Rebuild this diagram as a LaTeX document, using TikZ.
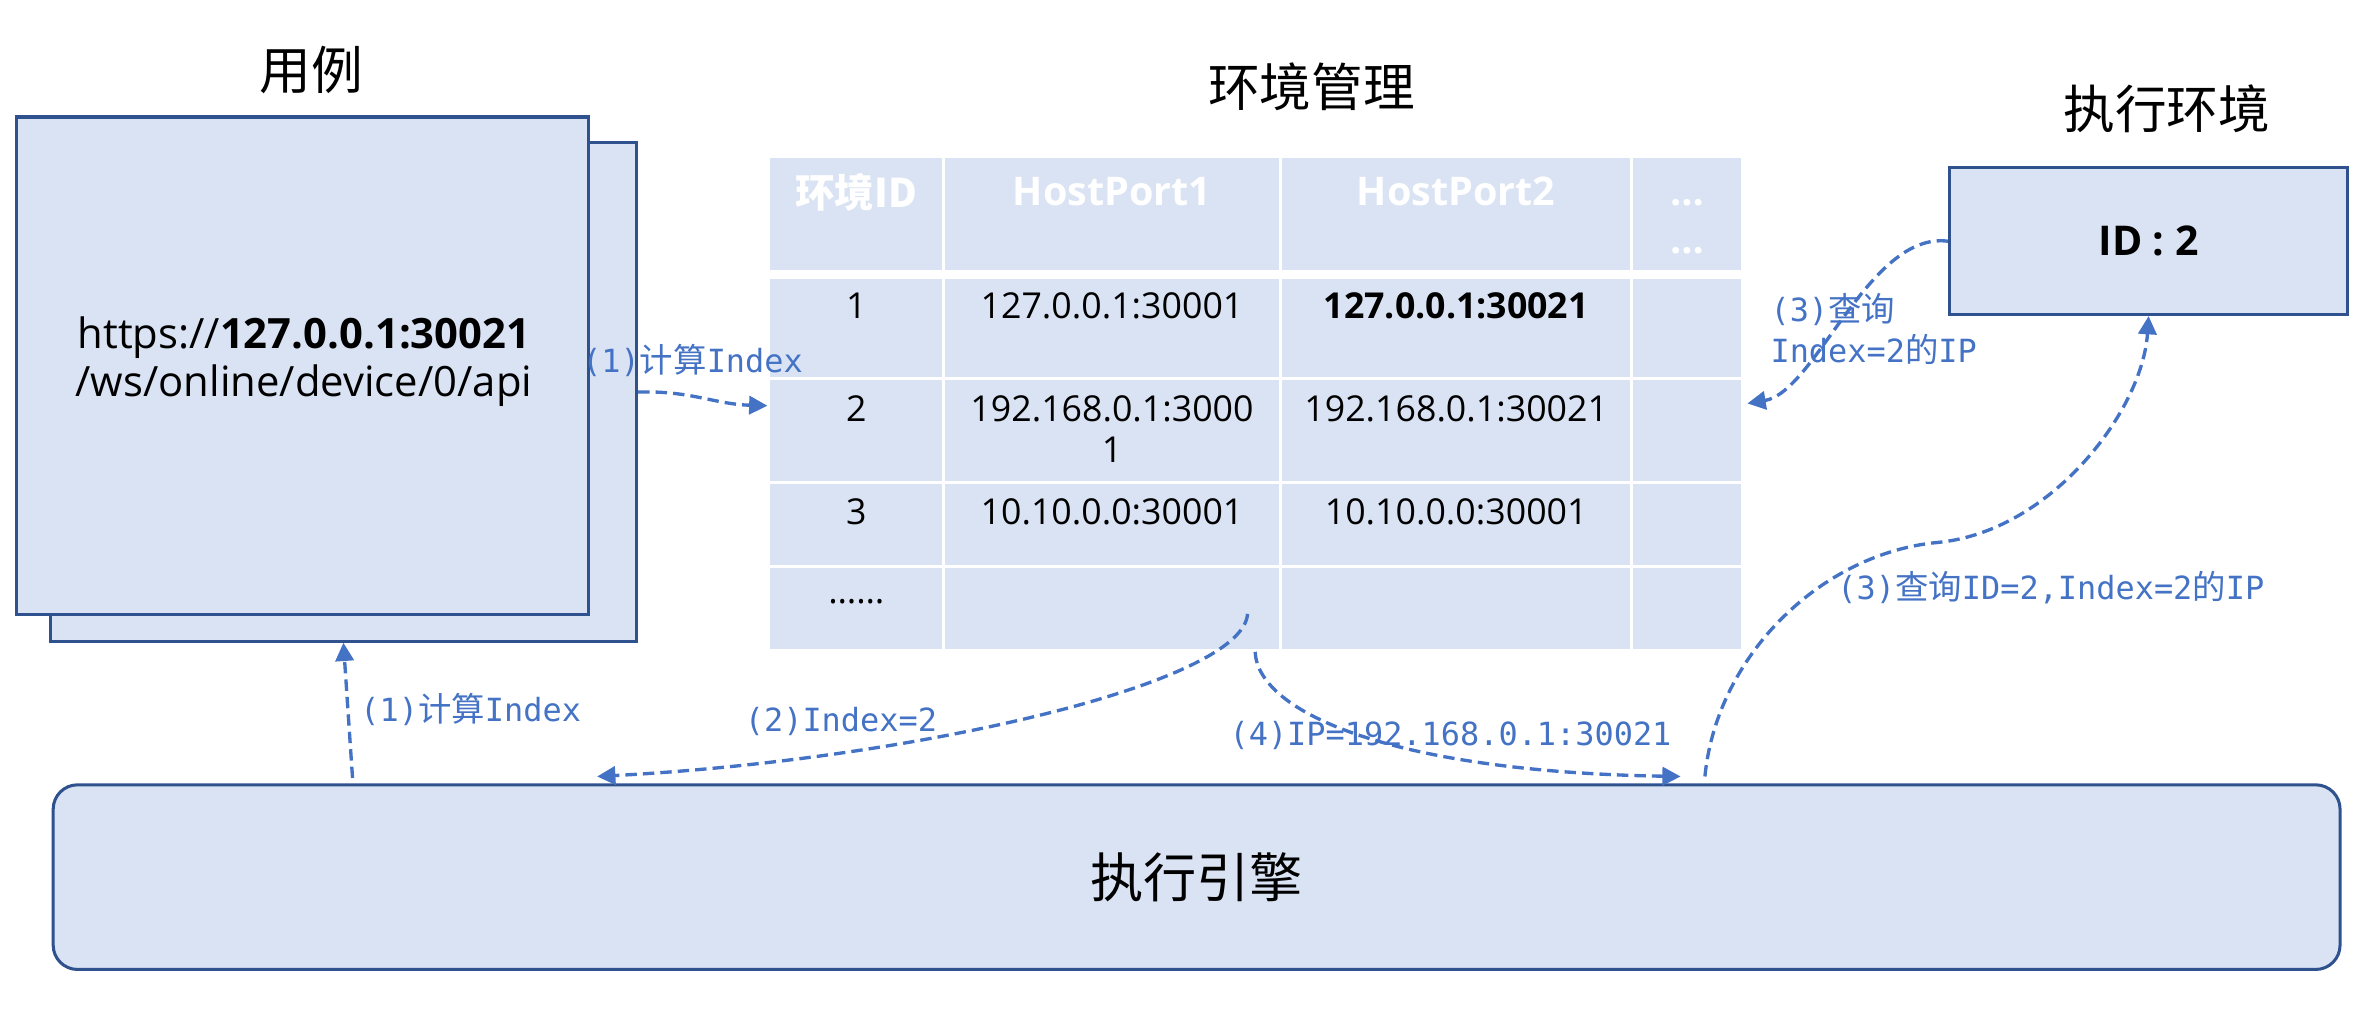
\documentclass[tikz,border=0pt]{standalone}
\usepackage{fontspec}
\setmainfont{Open Sans}
\newfontfamily\cjk{Noto Sans CJK SC}
\newfontfamily\monof{DejaVu Sans Mono}
\usetikzlibrary{arrows.meta}
\definecolor{boxfill}{HTML}{DAE3F3}
\definecolor{boxline}{HTML}{2F528F}
\definecolor{arrowc}{HTML}{4472C4}
\newcommand{\fs}[1]{\fontsize{#1}{#1}\selectfont}
\newcommand{\zh}[1]{{\cjk\fontsize{22}{22}\selectfont #1}}
\begin{document}
\begin{tikzpicture}[x=1pt,y=-1pt,
  ubox/.style={draw=boxline, fill=boxfill, line width=2pt, inner sep=0pt},
  titletext/.style={font=\cjk\fs{34}, inner sep=0pt},
  htext/.style={font=\bfseries\fs{26}, text=white, inner sep=0pt},
  hzh/.style={font=\cjk\bfseries\fs{26}, text=white, inner sep=0pt},
  dtext/.style={font=\fs{23.5}, inner sep=0pt},
  conn/.style={draw=arrowc, line width=2.2pt, dash pattern=on 7.5pt off 4pt, -{Triangle[length=12pt,width=12pt]}},
  lbl/.style={font=\monof\fs{21}, text=arrowc, inner sep=0pt, anchor=west}]
\useasboundingbox (0,0) rectangle (1563,669.3);

% titles
\node[titletext] (t1) at (205,46) {用例};
\node[titletext] (t2) at (863,57) {环境管理};
\node[titletext] (t3) at (1426,71.5) {执行环境};

% use case boxes
\node[ubox, minimum width=386pt, minimum height=328pt] (back) at (226,258) {};
\node[ubox, minimum width=376pt, minimum height=327.5pt] (front) at (199,240.75) {};
\node[font=\fontsize{27.5}{32}\selectfont, align=center, inner sep=0pt] (url) at (200,238)
  {https://\textbf{127.0.0.1:30021}\\/ws/online/device/0/api};

% table
\foreach \xa/\xb in {506.6/620, 622/841.6, 843.6/1073, 1075/1146}
  \foreach \ya/\yb in {104/177.7, 183.4/248, 250/316.5, 318.5/372, 374/427}
    \fill[boxfill] (\xa,\ya) rectangle (\xb,\yb);
\node[hzh] (h1) at (563.5,126.5) {环境ID};
\node[htext] (h2) at (731.8,126) {HostPort1};
\node[htext] (h3) at (958.3,126) {HostPort2};
\node[htext] (h4a) at (1110.5,133.5) {…};
\node[htext] (h4b) at (1110.5,165) {…};
\node[dtext] (r11) at (563.5,201) {1};
\node[dtext] (r12) at (731.8,201) {127.0.0.1:30001};
\node[dtext, font=\bfseries\fs{23.5}] (r13) at (958.3,201) {127.0.0.1:30021};
\node[dtext] (r21) at (563.5,269) {2};
\node[dtext, align=center, font=\fontsize{23.5}{27}\selectfont] (r22) at (731.8,282.5) {192.168.0.1:3000\\1};
\node[dtext] (r23) at (958.3,269) {192.168.0.1:30021};
\node[dtext] (r31) at (563.5,337) {3};
\node[dtext] (r32) at (731.8,337) {10.10.0.0:30001};
\node[dtext] (r33) at (958.3,337) {10.10.0.0:30001};
\node[dtext] (r41) at (563.5,396) {……};

% execution environment box
\node[ubox, minimum width=262pt, minimum height=96.5pt, font=\bfseries\fs{27}] (idbox) at (1414,158.75) {ID : 2};

% execution engine
\node[ubox, rounded corners=16pt, minimum width=1505pt, minimum height=121.5pt, font=\cjk\fs{35}] (engine) at (787.5,577.25) {执行引擎};

% connector end points
\coordinate (tblw) at (505,267);
\coordinate (e1) at (232,512);
\coordinate (p2) at (821,404);
\coordinate (e2) at (393,511);
\coordinate (p4) at (826,429);
\coordinate (e4) at (1106,511);
\coordinate (e5) at (1122,511);
\coordinate (m5) at (1275,357);
\coordinate (tble) at (1150,265.5);

% connectors
\draw[conn] (back.east) .. controls (455,257) and (470,266) .. (tblw);
\draw[conn] (e1) -- (back.south);
\draw[conn] (p2) .. controls (818,450) and (600,500) .. (e2);
\draw[conn] (p4) .. controls (828,470) and (920,508) .. (e4);
\draw[conn] (e5) .. controls (1130,430) and (1200,364) .. (m5) .. controls (1350,350) and (1410,270) .. (idbox.south);
\draw[conn] (idbox.west) .. controls (1230,152) and (1195,258) .. (tble);

% labels
\node[lbl] (l1a) at (383,237) {(1)\zh{计算}Index};
\node[lbl] (l1b) at (237,467) {(1)\zh{计算}Index};
\node[lbl] (l2) at (490,475) {(2)Index=2};
\node[lbl] (l4) at (809,484) {(4)IP=192.168.0.1:30021};
\node[lbl] (l5) at (1209,386.5) {(3)\zh{查询}ID=2,Index=2\zh{的}IP};
\node[lbl, align=left, font=\monof\fontsize{21}{27}\selectfont] (l6) at (1165,216.5) {(3)\zh{查询}\\Index=2\zh{的}IP};
\end{tikzpicture}
\end{document}
